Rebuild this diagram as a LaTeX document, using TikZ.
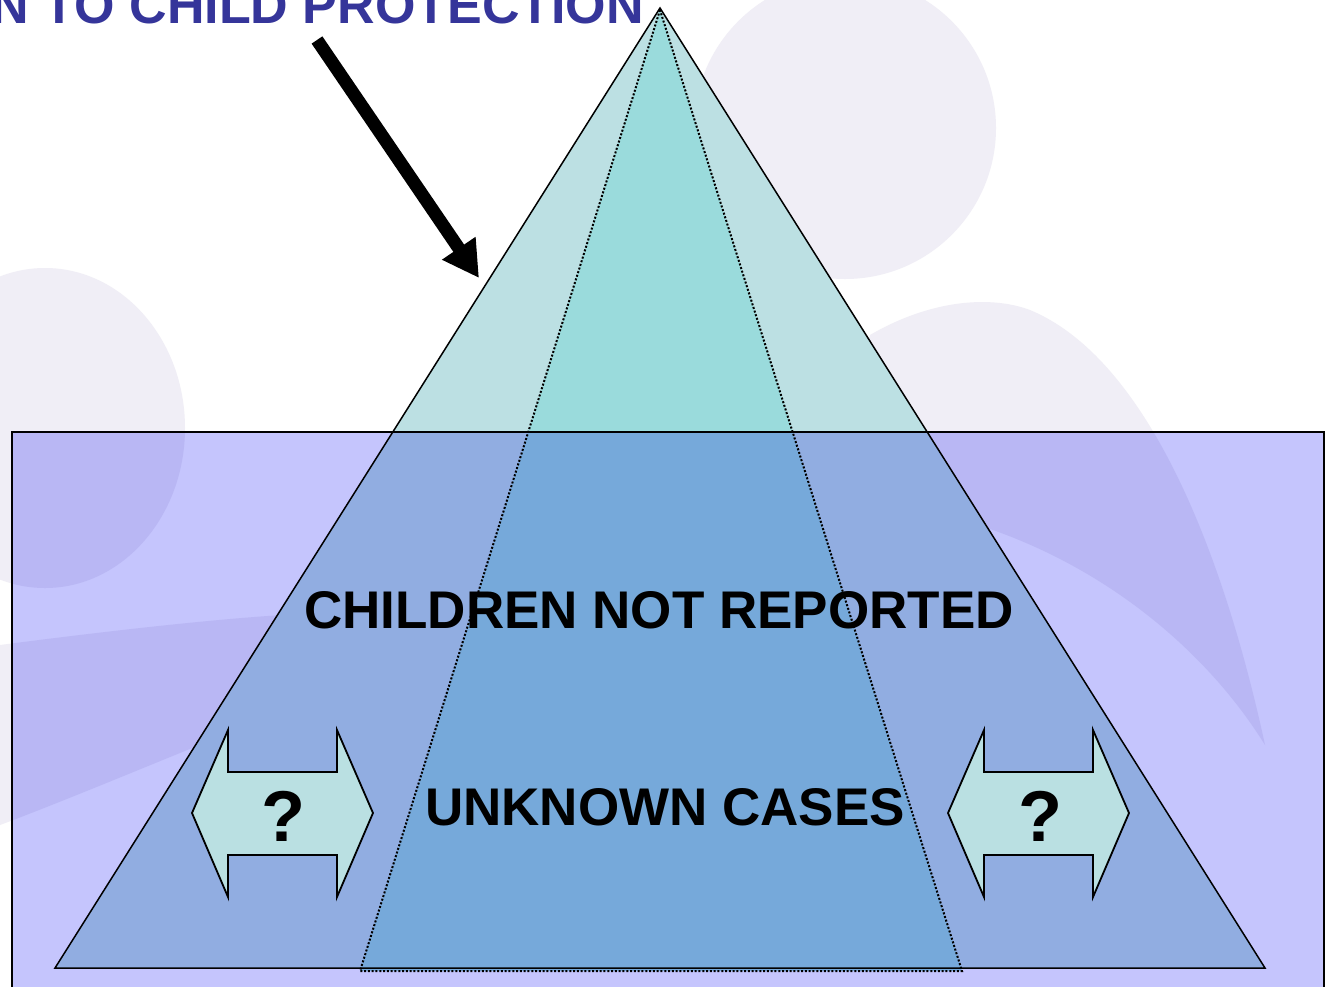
\documentclass[tikz,border=0pt]{standalone}
\usepackage{fontspec}
\setmainfont{Liberation Sans}
\usetikzlibrary{arrows.meta}
\definecolor{blobc}{HTML}{F0EEF6}
\definecolor{outertri}{HTML}{BCE0E3}
\definecolor{innertri}{HTML}{9ADBDC}
\definecolor{lav}{HTML}{C5C5FD}
\definecolor{dblfill}{HTML}{BAE0E2}
\definecolor{titleblue}{HTML}{35359A}
\tikzset{
  blob/.style={fill=blobc},
  trioutline/.style={draw=black, line width=1.5pt, line join=miter},
  dottedline/.style={draw=black, line width=2pt, dash pattern=on 2pt off 1.8pt},
  dblarrow/.style={fill=dblfill, draw=black, line width=1.8pt, line join=miter},
  bigtext/.style={inner sep=0pt, anchor=base, font=\bfseries\fontsize{53}{53}\selectfont, text=black},
  qtext/.style={inner sep=0pt, anchor=base, font=\bfseries\fontsize{72}{72}\selectfont, text=black},
}
\begin{document}
\begin{tikzpicture}[x=1pt,y=-1pt]
\useasboundingbox (0,0) rectangle (1332,986);
\clip (0,0) rectangle (1332,986);
\fill[white] (0,0) rectangle (1332,986);
% background decorations
\fill[blob] (845,128) circle[radius=151];
\fill[blob] (870,335) .. controls (930,300) and (990,295) .. (1030,310)
  .. controls (1150,360) and (1225,560) .. (1265,745)
  .. controls (1200,640) and (1080,545) .. (930,512)
  -- (850,420) -- cycle;
\fill[blob] (45,428) ellipse[x radius=140, y radius=160];
\fill[blob] (0,645) .. controls (100,632) and (220,618) .. (300,614)
  -- (250,725) .. controls (190,748) and (80,795) .. (0,825) -- cycle;
% pyramid
\coordinate (apex) at (660,8);
\coordinate (bl) at (55,968);
\coordinate (br) at (1265,968);
\coordinate (iapex) at (660,10);
\coordinate (ibl) at (360,971);
\coordinate (ibr) at (962,971);
\fill[outertri] (apex) -- (bl) -- (br) -- cycle;
\fill[innertri] (iapex) -- (ibl) -- (ibr) -- cycle;
\draw[trioutline] (apex) -- (bl) -- (br) -- cycle;
\draw[dottedline] (iapex) -- (ibl) -- (ibr) -- cycle;
% translucent box
\begin{scope}[blend mode=multiply]
\fill[lav] (12,432) rectangle (1324,1000);
\end{scope}
\draw[black, line width=2pt] (12,1000) -- (12,432) -- (1324,432) -- (1324,1000);
% title and pointer
\node[inner sep=0pt, anchor=base east, text=titleblue, font=\bfseries\fontsize{52}{52}\selectfont] (title) at (644,23) {N TO CHILD PROTECTION};
\coordinate (arrS) at (317,40);
\coordinate (arrT) at (479,278);
\draw[line width=13pt, -{Triangle[length=36pt,width=38pt]}] (arrS) -- (arrT);
% texts
\node[bigtext] (notrep) at (659,628) {CHILDREN NOT REPORTED};
\node[bigtext] (unknown) at (665,825) {UNKNOWN CASES};
% double arrows
\draw[dblarrow] (192,813) -- (228,730) -- (228,772) -- (337,772) -- (337,730) -- (373,813)
  -- (337,897) -- (337,855) -- (228,855) -- (228,897) -- cycle;
\draw[dblarrow] (948,813) -- (984,730) -- (984,772) -- (1093,772) -- (1093,730) -- (1129,813)
  -- (1093,897) -- (1093,855) -- (984,855) -- (984,897) -- cycle;
\node[qtext] (qleft) at (283,841) {?};
\node[qtext] (qright) at (1040,841) {?};
\end{tikzpicture}
\end{document}
